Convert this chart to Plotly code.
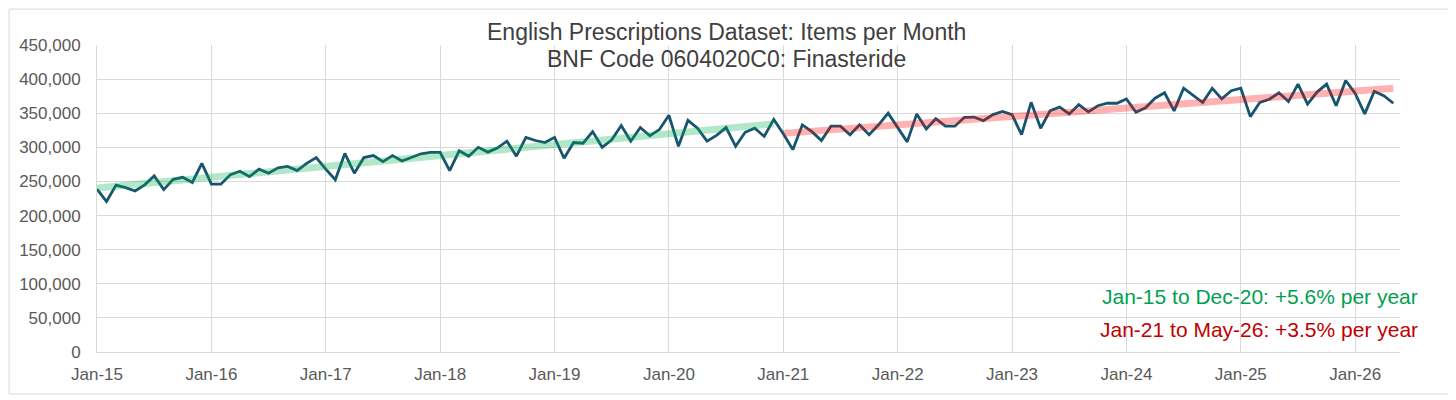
import numpy as np
import pandas as pd
import plotly.graph_objects as go

# monthly items, Jan-15 .. May-26
items = [
    238700, 220600, 244600, 241000, 236000, 245000, 258000, 238000, 253000, 256000, 248500, 276500,
    246000, 246000, 260000, 265000, 257000, 268000, 262000, 270000, 272000, 266000, 276500, 285000,
    268000, 252500, 291000, 262000, 285000, 288000, 279000, 288000, 280000, 285000, 290500, 292500,
    292700, 266000, 295000, 287000, 300000, 293000, 299000, 309000, 287000, 314600, 310000, 307000,
    314600, 284000, 307000, 306000, 323000, 300000, 311000, 332000, 309000, 329000, 317000, 326000,
    347000, 301500, 339500, 328000, 309000, 317600, 329000, 301500, 322000, 328000, 316000, 341000,
    320000, 296600, 333000, 323000, 310000, 331000, 331000, 318500, 333000, 318500, 333000, 350000,
    329000, 308000, 349000, 327000, 342000, 331000, 331000, 344000, 344400, 339000, 348000, 352700,
    348000, 318500, 366000, 328000, 353700, 359000, 349000, 362500, 352000, 361000, 364600, 364600,
    371000, 351500, 358000, 372000, 380000, 353400, 386600, 376000, 365600, 386600, 371000, 383000,
    386600, 345000, 366000, 370500, 380000, 367000, 392700, 363400, 381000, 392700, 361000, 398000,
    379000, 349000, 382000, 375600, 364600,
]
months = pd.date_range("2015-01-01", periods=len(items), freq="MS").strftime("%b-%y").tolist()

split = months.index("Jan-21")
note_early = "Jan-15 to Dec-20: +5.6% per year"
note_late = "Jan-21 to May-26: +3.5% per year"
title_1 = "English Prescriptions Dataset: Items per Month"
title_2 = "BNF Code 0604020C0: Finasteride"

FONT = "Liberation Sans, Arial, sans-serif"
GRID = "#D9D9D9"

idx = np.arange(len(items))
vals = np.array(items, dtype=float)


def trend(i0, i1):
    xs = idx[i0:i1]
    k, b = np.polyfit(xs, vals[i0:i1], 1)
    return xs, k * xs + b


fig = go.Figure()
fig.add_trace(go.Scatter(x=idx, y=items, mode="lines",
                         line=dict(color="#17546E", width=2.8)))
x1, y1 = trend(0, split)
x2, y2 = trend(split, len(items))
fig.add_trace(go.Scatter(x=x1, y=y1, mode="lines",
                         line=dict(color="rgba(0,176,80,0.3)", width=7)))
fig.add_trace(go.Scatter(x=x2, y=y2, mode="lines",
                         line=dict(color="rgba(255,0,0,0.3)", width=7)))

# the page body has an 8px margin, so the figure is 8px smaller than the window
fig.update_layout(
    width=1448, height=392,
    margin=dict(l=89, r=56, t=37, b=48),
    paper_bgcolor="white", plot_bgcolor="white",
    showlegend=False,
    font=dict(family=FONT, size=17, color="#595959"),
)
fig.update_xaxes(
    range=[0, 136.7], tickvals=idx[::12], ticktext=months[::12],
    showgrid=True, gridcolor=GRID, gridwidth=1,
    showline=True, linecolor=GRID, zeroline=False,
    ticks="", ticklabelstandoff=7,
)
fig.update_yaxes(
    range=[0, 450000], dtick=50000, tickformat=",",
    showgrid=True, gridcolor=GRID, gridwidth=1,
    showline=True, linecolor=GRID, zeroline=False,
    ticks="", ticklabelstandoff=12,
)

fig.add_annotation(text=title_1, xref="paper", yref="paper", x=0.483, y=1.042,
                   yanchor="middle", showarrow=False, font=dict(size=23, color="#404040"),
                   bgcolor="white", borderpad=0)
fig.add_annotation(text=title_2, xref="paper", yref="paper", x=0.483, y=0.953,
                   yanchor="middle", showarrow=False, font=dict(size=23, color="#404040"))
fig.add_annotation(text=note_early, xref="paper", yref="paper", x=1.0154, y=0.182,
                   xanchor="right", yanchor="middle", showarrow=False,
                   font=dict(size=21, color="#00A050"))
fig.add_annotation(text=note_late, xref="paper", yref="paper", x=1.0154, y=0.0717,
                   xanchor="right", yanchor="middle", showarrow=False,
                   font=dict(size=21, color="#C00000"))

fig.add_shape(type="rect", xref="paper", yref="paper",
              x0=-0.0675, x1=1.0399, y0=-0.1368, y1=1.117,
              line=dict(color=GRID, width=1), fillcolor="rgba(0,0,0,0)", layer="below")

fig.write_html("out.html")
